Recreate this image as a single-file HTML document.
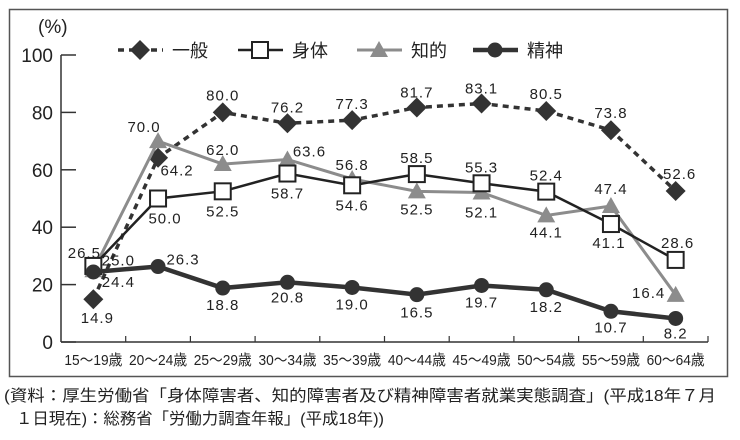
<!DOCTYPE html>
<html><head><meta charset="utf-8">
<style>
body{margin:0;background:#fff;}
svg text{font-family:"Liberation Sans","Noto Sans CJK JP",sans-serif;}
</style></head>
<body>
<svg width="740" height="435" viewBox="0 0 740 435" xmlns="http://www.w3.org/2000/svg">
<rect x="9.5" y="9.5" width="718" height="367" fill="none" stroke="#555" stroke-width="1.5"/>
<text x="38" y="33" font-size="19" fill="#222">(%)</text>
<g id="axes"></g>
<g id="series"></g>
<g id="legend"></g>
<text x="4" y="401" font-size="16" fill="#222" textLength="712" lengthAdjust="spacingAndGlyphs">(資料：厚生労働省「身体障害者、知的障害者及び精神障害者就業実態調査」(平成18年７月</text>
<text x="16" y="424" font-size="16" fill="#222" textLength="368" lengthAdjust="spacingAndGlyphs">１日現在)：総務省「労働力調査年報」(平成18年))</text>
</svg>
<script>
const categories=["15～19歳","20～24歳","25～29歳","30～34歳","35～39歳","40～44歳","45～49歳","50～54歳","55～59歳","60～64歳"];
const ippan=[14.9,64.2,80.0,76.2,77.3,81.7,83.1,80.5,73.8,52.6];
const shintai=[26.5,50.0,52.5,58.7,54.6,58.5,55.3,52.4,41.1,28.6];
const chiteki=[25.0,70.0,62.0,63.6,56.8,52.5,52.1,44.1,47.4,16.4];
const seishin=[24.4,26.3,18.8,20.8,19.0,16.5,19.7,18.2,10.7,8.2];
const yTicks=[0,20,40,60,80,100];
const NS="http://www.w3.org/2000/svg";
const x0=61,x1=708,yTop=55,yBot=342;
const step=(x1-x0)/categories.length;
function xs(i){return x0+step*(i+0.5);}
function ys(v){return yBot-(yBot-yTop)*v/100;}
function mk(tag,attrs,parent){const e=document.createElementNS(NS,tag);for(const k in attrs)e.setAttribute(k,attrs[k]);parent.appendChild(e);return e;}
const axes=document.getElementById('axes');
let a=mk('line',{x1:x0,y1:yTop,x2:x0,y2:yBot,stroke:'#333','stroke-width':1.5},axes);


a=mk('line',{x1:x0,y1:yBot,x2:x1,y2:yBot,stroke:'#333','stroke-width':1.5},axes);


yTicks.forEach(v=>{
 const t=mk('line',{x1:x0,y1:ys(v),x2:x0+15,y2:ys(v),stroke:'#333','stroke-width':1.5},axes);
 
 
 const l=mk('text',{x:x0-8,y:ys(v)+7,'font-size':19,'text-anchor':'end',fill:'#222'},axes);
 l.textContent=v;
 
 
});
categories.forEach((c,i)=>{
 const t=mk('line',{x1:x0+step*(i+1),y1:yBot,x2:x0+step*(i+1),y2:yBot-6,stroke:'#333','stroke-width':1.2},axes);
 
 
 const l=mk('text',{x:xs(i)-29,y:yBot+23,'font-size':15,fill:'#222',textLength:58,lengthAdjust:'spacingAndGlyphs'},axes);
 l.textContent=c;
 
 
});
const sg=document.getElementById('series');
function marker(type,cx,cy,color,g){
 let e;
 if(type==='diamond')e=mk('polygon',{points:`${cx},${cy-10} ${cx+10},${cy} ${cx},${cy+10} ${cx-10},${cy}`,fill:color},g);
 else if(type==='square')e=mk('rect',{x:cx-8,y:cy-8,width:16,height:16,fill:'#fff',stroke:'#222','stroke-width':2},g);
 else if(type==='triangle')e=mk('polygon',{points:`${cx},${cy-9} ${cx+9},${cy+7} ${cx-9},${cy+7}`,fill:color},g);
 else e=mk('circle',{cx:cx,cy:cy,r:7.5,fill:color},g);
 return e;
}
const ippanOff=[[4,24],[19,18],[0,-12],[0,-11],[0,-11],[0,-10],[0,-10],[0,-12],[0,-12],[4,-12]];
const shintaiOff=[[-9,-8],[7,25],[0,25],[0,25],[0,25],[0,-11],[0,-11],[0,-11],[-2,24],[2,-12]];
const chitekiOff=[[25,-5],[-14,-9],[0,-9],[22,-3],[0,-9],[0,23],[0,25],[0,22],[0,-12],[-27,3]];
const seishinOff=[[25,15],[25,-2],[0,22],[0,20],[0,22],[0,23],[0,22],[0,22],[0,21],[0,20]];
const defs=[
 {name:'ippan',data:ippan,color:'#333',dash:'6,5',w:3.5,m:'diamond',off:ippanOff},
 {name:'chiteki',data:chiteki,color:'#8c8c8c',dash:'',w:3,m:'triangle',off:chitekiOff},
 {name:'shintai',data:shintai,color:'#222',dash:'',w:2.5,m:'square',off:shintaiOff},
 {name:'seishin',data:seishin,color:'#333',dash:'',w:4.5,m:'circle',off:seishinOff}
];
defs.forEach(d=>{
 const g=mk('g',{},sg);
 
 
 const pts=d.data.map((v,i)=>xs(i)+','+ys(v)).join(' ');
 const pl=mk('polyline',{points:pts,fill:'none',stroke:d.color,'stroke-width':d.w,'stroke-dasharray':d.dash},g);
 
 
 d.data.forEach((v,i)=>{
  const e=marker(d.m,xs(i),ys(v),d.color,g);
  
  
 });
});
defs.forEach(d=>{
 d.data.forEach((v,i)=>{
  const l=mk('text',{x:xs(i)+d.off[i][0],y:ys(v)+d.off[i][1],'font-size':15,'text-anchor':'middle',fill:'#222','letter-spacing':'1'},sg);
  l.textContent=v.toFixed(1);
  
  
 });
});
const lg=document.getElementById('legend');
const leg=[['一般','diamond','#333','6,5',3.5,118],['身体','square','#222','',2.5,238],['知的','triangle','#8c8c8c','',3,357],['精神','circle','#333','',4.5,473]];
leg.forEach(L=>{
 const g=mk('g',{},lg);
 
 
 const ly=50,lx=L[5];
 mk('line',{x1:lx,y1:ly,x2:lx+45,y2:ly,stroke:L[2],'stroke-width':L[4],'stroke-dasharray':L[3]},g);
 marker(L[1],lx+22,ly,L[2],g);
 const t=mk('text',{x:lx+54,y:ly+7,'font-size':18,fill:'#222'},g);
 t.textContent=L[0];
});
</script>
</body></html>
